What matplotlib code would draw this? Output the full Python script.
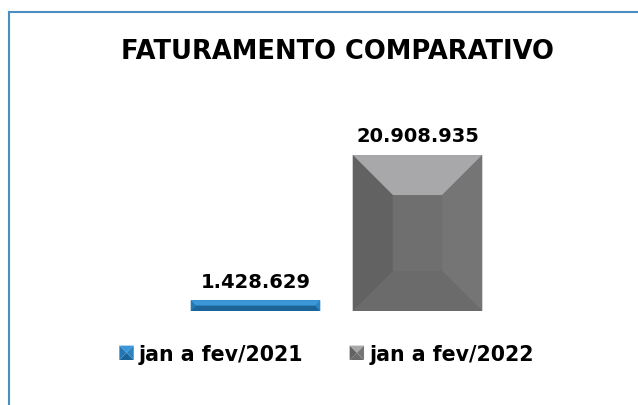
import numpy as np
import matplotlib
matplotlib.use("Agg")
import matplotlib.pyplot as plt
from matplotlib.patches import Polygon, Rectangle
from matplotlib.lines import Line2D
from matplotlib.legend_handler import HandlerBase

periodos = ["jan a fev/2021", "jan a fev/2022"]
faturamento = [1428629, 20908935]
rotulos = ["1.428.629", "20.908.935"]

# face colours of the bevel: top, left, right, bottom, centre
cores = [
    {"top": "#3B97D7", "left": "#2378B4", "right": "#2A84C2", "bottom": "#1C6498", "mid": "#2A85C4"},
    {"top": "#A8A8AA", "left": "#626262", "right": "#757575", "bottom": "#6B6B6B", "mid": "#6F6F6F"},
]

W, H = 638, 406
fig = plt.figure(figsize=(W / 100, H / 100), dpi=100)
ax = fig.add_axes([174.5 / W, 94 / H, 324 / W, 164.1 / H])
ax.set_xlim(-0.5, 1.5)
ax.set_ylim(0, 22000000)
ax.axis("off")

x = np.arange(len(periodos))
bars = ax.bar(x, faturamento, width=0.8, color=[c["mid"] for c in cores])


def bevel(ax, rect, c, bpx=40):
    # draws the four bevel faces inside a bar, in pixel space
    trans = ax.transData
    x0, y0 = trans.transform((rect.get_x(), rect.get_y()))
    x1, y1 = trans.transform((rect.get_x() + rect.get_width(), rect.get_y() + rect.get_height()))
    b = min(bpx, (y1 - y0) / 2, (x1 - x0) / 2)
    faces = {
        "top": [(x0, y1), (x1, y1), (x1 - b, y1 - b), (x0 + b, y1 - b)],
        "bottom": [(x0, y0), (x1, y0), (x1 - b, y0 + b), (x0 + b, y0 + b)],
        "left": [(x0, y0), (x0, y1), (x0 + b, y1 - b), (x0 + b, y0 + b)],
        "right": [(x1, y0), (x1, y1), (x1 - b, y1 - b), (x1 - b, y0 + b)],
    }
    inv = trans.inverted()
    for k, pts in faces.items():
        ax.add_patch(Polygon(inv.transform(pts), closed=True, facecolor=c[k],
                             edgecolor="none", zorder=3))


for r, c in zip(bars, cores):
    bevel(ax, r, c)

for xi, v, t in zip(x, faturamento, rotulos):
    ax.annotate(t, (xi, v), xytext=(0, 7), textcoords="offset points",
                ha="center", va="bottom", fontsize=14, fontweight="bold")

fig.text(337.5 / W, 1 - 52 / H, "FATURAMENTO COMPARATIVO", ha="center", va="center",
         fontsize=18.5, fontweight="bold")


class BevelHandler(HandlerBase):
    def __init__(self, c):
        super().__init__()
        self.c = c

    def create_artists(self, legend, orig, xd, yd, width, height, fontsize, trans):
        s = height * 1.0
        x0, y0 = xd + width - s, yd
        x1, y1 = x0 + s, y0 + s
        cx, cy = (x0 + x1) / 2, (y0 + y1) / 2
        out = []
        for k, pts in {
            "top": [(x0, y1), (x1, y1), (cx, cy)],
            "bottom": [(x0, y0), (x1, y0), (cx, cy)],
            "left": [(x0, y0), (x0, y1), (cx, cy)],
            "right": [(x1, y0), (x1, y1), (cx, cy)],
        }.items():
            p = Polygon(pts, closed=True, facecolor=self.c[k], edgecolor="none", transform=trans)
            out.append(p)
        return out


handles = [Rectangle((0, 0), 1, 1) for _ in periodos]
fig.legend(handles, periodos, loc="center", bbox_to_anchor=(326 / W, 1 - 355 / H),
           ncol=2, frameon=False, prop={"size": 14.8, "weight": "bold"},
           handler_map={h: BevelHandler(c) for h, c in zip(handles, cores)},
           handlelength=0.75, handletextpad=0.25, columnspacing=2.2)

fig.add_artist(Line2D([9 / W, 1], [1 - 13 / H] * 2, color="#4A8FC0", lw=1.5))
fig.add_artist(Line2D([9 / W] * 2, [0, 1 - 13 / H], color="#4A8FC0", lw=1.5))

fig.savefig("out.png", dpi=100)
